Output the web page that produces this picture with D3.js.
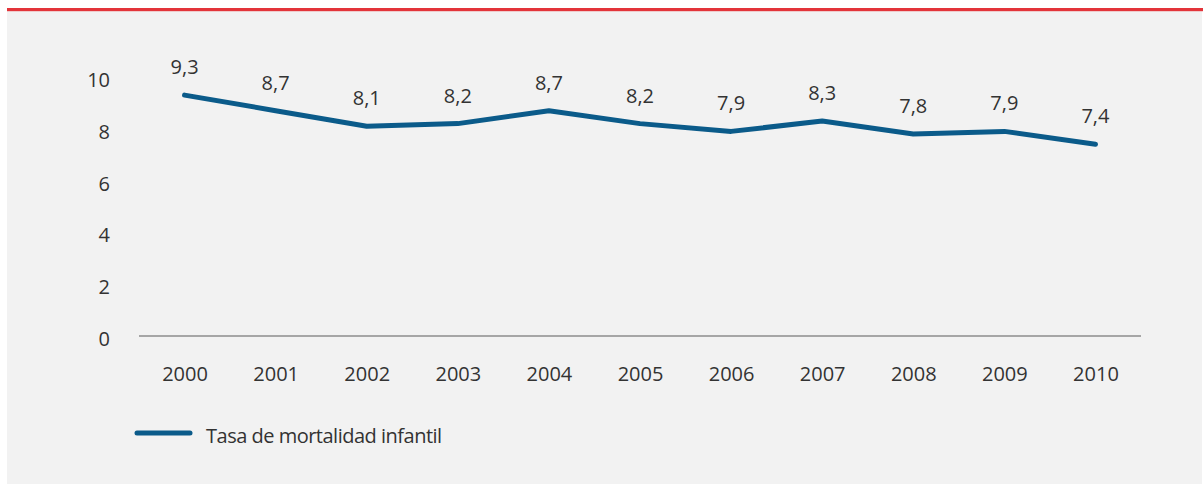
<!DOCTYPE html>
<html>
<head>
<meta charset="utf-8">
<script src="https://cdn.jsdelivr.net/npm/d3@7"></script>
<style>
  html, body { margin: 0; padding: 0; background: #ffffff; }
  svg { display: block; font-family: "Open Sans", "Noto Sans", sans-serif; }
</style>
</head>
<body>
<svg id="chart" width="1203" height="484"></svg>
<script>
const years = ["2000","2001","2002","2003","2004","2005","2006","2007","2008","2009","2010"];
const rates = [9.3, 8.7, 8.1, 8.2, 8.7, 8.2, 7.9, 8.3, 7.8, 7.9, 7.4];
const yTicks = [0, 2, 4, 6, 8, 10];
const seriesName = "Tasa de mortalidad infantil";

const svg = d3.select("#chart");
const W = 1203, H = 484;

// background panel and red rule
svg.append("rect").attr("x", 7).attr("y", 10).attr("width", W - 8).attr("height", H - 10).attr("fill", "#f2f2f2");
svg.append("rect").attr("x", 7).attr("y", 8).attr("width", W - 7).attr("height", 3.2).attr("fill", "#e3343a");

const x = d3.scalePoint().domain(years).range([139, 1141]).padding(0.5);
const y = d3.scaleLinear().domain([0, 10]).range([336, 77]);

// axis line
svg.append("line").attr("x1", 139).attr("x2", 1141).attr("y1", y(0)).attr("y2", y(0))
  .attr("stroke", "#8c8c8c").attr("stroke-width", 1.5);

// y labels
const yAxis = d3.axisLeft(y).tickValues(yTicks).tickSize(0).tickPadding(0).tickFormat(d3.format("d"));
const gy = svg.append("g").attr("transform", "translate(110,3)").call(yAxis);
gy.select(".domain").remove();
gy.selectAll("text").attr("font-size", 20).attr("fill", "#333333").attr("font-family", "'Open Sans', sans-serif");

// x labels
const xAxis = d3.axisBottom(x).tickSize(0).tickPadding(0);
const gx = svg.append("g").attr("transform", "translate(0,367)").call(xAxis);
gx.select(".domain").remove();
gx.selectAll("text").attr("font-size", 20).attr("fill", "#333333").attr("font-family", "'Open Sans', sans-serif");

// line
const line = d3.line().x((d, i) => x(years[i])).y(d => y(d));
svg.append("path").datum(rates).attr("d", line).attr("fill", "none")
  .attr("stroke", "#0b5b8a").attr("stroke-width", 5).attr("stroke-linejoin", "round").attr("stroke-linecap", "round");

// data labels
const fmt = v => d3.format(".1f")(v).replace(".", ",");
svg.append("g").selectAll("text").data(rates).join("text")
  .attr("x", (d, i) => x(years[i]))
  .attr("y", d => y(d) - 21)
  .attr("text-anchor", "middle")
  .attr("font-size", 20).attr("fill", "#333333")
  .text(fmt);

// legend
svg.append("line").attr("x1", 137).attr("x2", 190).attr("y1", 433).attr("y2", 433)
  .attr("stroke", "#0b5b8a").attr("stroke-width", 5).attr("stroke-linecap", "round");
svg.append("text").attr("x", 206).attr("y", 443).attr("font-size", 20).attr("letter-spacing", -0.5)
  .attr("fill", "#333333").text(seriesName);
</script>
</body>
</html>
